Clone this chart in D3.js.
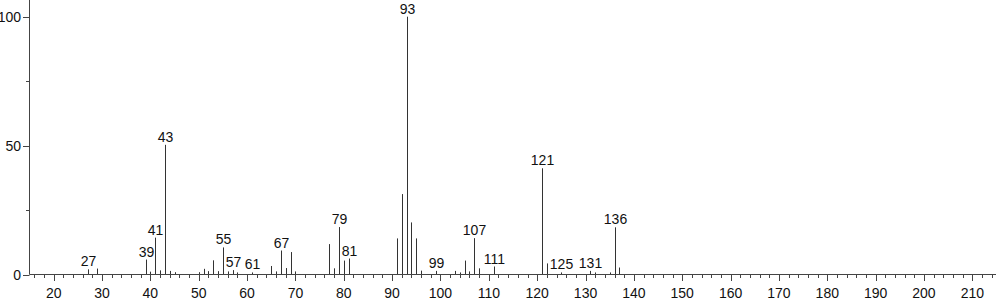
<!DOCTYPE html>
<html><head><meta charset="utf-8">
<script src="https://cdn.jsdelivr.net/npm/d3@7"></script>
<style>body{margin:0;background:#fff}svg{display:block}text{font-family:"Liberation Sans",Arial,sans-serif}</style>
</head><body><svg id="c" width="996" height="299"></svg>
<script>
const mz =        [27,29,39,40,41,42,43,44,45,50,51,52,53,54,55,56,57,58,61,65,66,67,68,69,70,77,78,79,80,81,91,92,93,94,95,96,99,103,104,105,106,107,108,111,121,122,125,131,132,135,136,137];
const intensity = [2.0,2.3,5.8,1.1,14.3,1.6,50.3,1.4,0.9,0.9,2.2,1.3,5.5,1.3,10.5,1.2,1.7,0.8,0.8,3.3,1.2,9.3,2.5,8.7,1.2,11.8,2.4,18.4,5.4,6.2,14.0,31.2,100,20.2,14.0,1.5,1.4,1.4,0.8,5.4,1.2,14.1,2.4,3.1,41.2,4.3,0.8,1.4,0.8,0.8,18.3,2.7];
const labelled = [27,39,41,43,55,57,61,67,79,81,93,99,107,111,121,125,131,136];
const xTickLabels = [20,30,40,50,60,70,80,90,100,110,120,130,140,150,160,170,180,190,200,210];
const yTickLabels = [0,50,100];

const svg = d3.select("#c");
const x = d3.scaleLinear().domain([15,215]).range([29.5,996.5]);
const y = d3.scaleLinear().domain([0,100]).range([274.5,16.7]);
const axisColor = "#444";

// peaks
svg.append("g").selectAll("line").data(mz).join("line")
  .attr("x1", d=>Math.round(x(d))+0.5).attr("x2", d=>Math.round(x(d))+0.5)
  .attr("y1", y(0)).attr("y2", (d,i)=>y(intensity[i]))
  .attr("stroke", "#333").attr("stroke-width", 1);

// peak labels
svg.append("g").selectAll("text").data(labelled).join("text")
  .attr("x", d=>Math.round(x(d))+0.5)
  .attr("y", d=>y(intensity[mz.indexOf(d)]) - 3)
  .attr("text-anchor","middle").attr("font-size",14).attr("fill","#111")
  .text(d=>d);

// x axis
const xMinor = d3.range(16, 215, 2).filter(v=>v%10!==0);
const gx = svg.append("g");
gx.append("line").attr("x1",29.5).attr("x2",996).attr("y1",274.5).attr("y2",274.5).attr("stroke",axisColor);
gx.selectAll("line.mn").data(xMinor).join("line").attr("class","mn")
  .attr("x1",d=>Math.round(x(d))+0.5).attr("x2",d=>Math.round(x(d))+0.5)
  .attr("y1",274.5).attr("y2",278).attr("stroke",axisColor);
gx.selectAll("line.mj").data(xTickLabels).join("line").attr("class","mj")
  .attr("x1",d=>Math.round(x(d))+0.5).attr("x2",d=>Math.round(x(d))+0.5)
  .attr("y1",274.5).attr("y2",281).attr("stroke",axisColor);
gx.selectAll("text").data(xTickLabels).join("text")
  .attr("x",d=>x(d)).attr("y",297.5).attr("text-anchor","middle")
  .attr("font-size",14).attr("fill","#111").text(d=>d);

// y axis
const gy = svg.append("g");
gy.append("line").attr("x1",29.5).attr("x2",29.5).attr("y1",0).attr("y2",274.5).attr("stroke",axisColor);
gy.selectAll("line.mn").data([25,75]).join("line").attr("class","mn")
  .attr("x1",26).attr("x2",29.5).attr("y1",d=>Math.round(y(d))+0.5).attr("y2",d=>Math.round(y(d))+0.5).attr("stroke",axisColor);
gy.selectAll("line.mj").data(yTickLabels).join("line").attr("class","mj")
  .attr("x1",23).attr("x2",29.5).attr("y1",d=>Math.round(y(d))+0.5).attr("y2",d=>Math.round(y(d))+0.5).attr("stroke",axisColor);
gy.selectAll("text").data(yTickLabels).join("text")
  .attr("x",21).attr("y",d=>y(d)).attr("dy","0.36em").attr("text-anchor","end")
  .attr("font-size",14).attr("fill","#111").text(d=>d);
</script></body></html>
